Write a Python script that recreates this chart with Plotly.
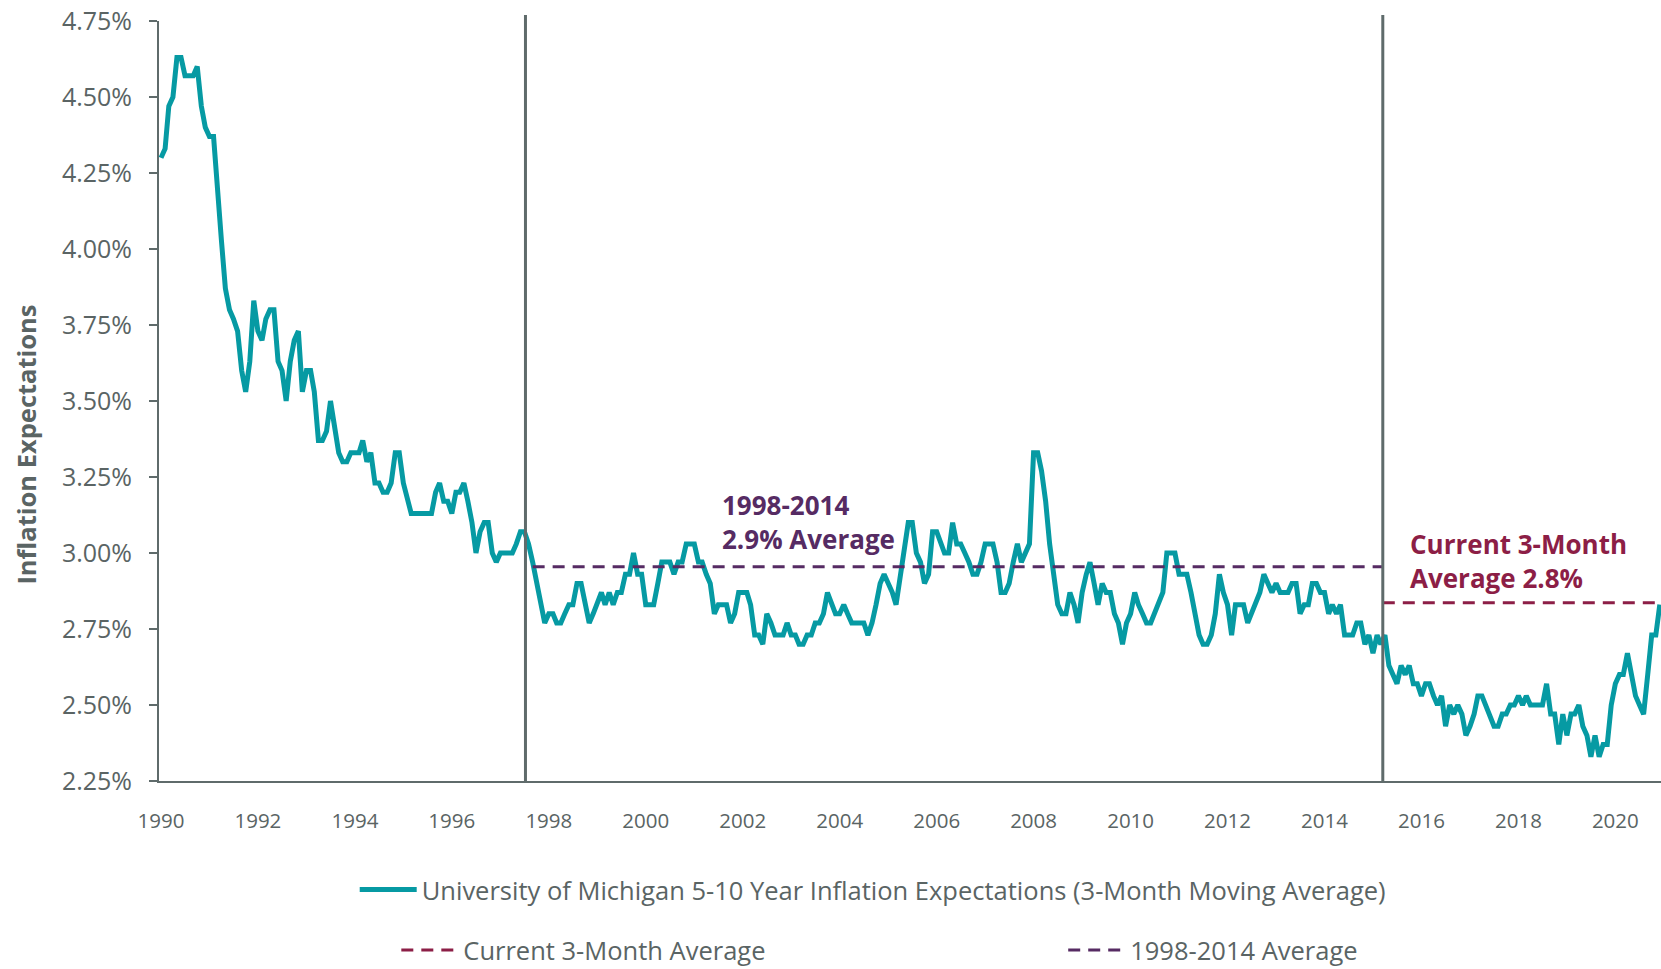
import pandas as pd
import plotly.graph_objects as go

# ---------------- data (monthly, 3-month moving average, %) ----------------
first_month = "1990-01-01"

exp_1990s = [
    4.30, 4.33, 4.47, 4.50, 4.63, 4.63, 4.57, 4.57, 4.57, 4.60, 4.47, 4.40,  # 1990
    4.37, 4.37, 4.23, 4.03, 3.87, 3.80, 3.77, 3.73, 3.60, 3.53, 3.63, 3.83,  # 1991
    3.73, 3.70, 3.77, 3.80, 3.80, 3.63, 3.60, 3.50, 3.63, 3.70, 3.73, 3.53,  # 1992
    3.60, 3.60, 3.53, 3.37, 3.37, 3.40, 3.50, 3.40, 3.33, 3.30, 3.30, 3.33,  # 1993
    3.33, 3.33, 3.37, 3.30, 3.33, 3.23, 3.23, 3.20, 3.20, 3.23, 3.33, 3.33,  # 1994
    3.23, 3.17, 3.13, 3.13, 3.13, 3.13, 3.13, 3.13, 3.20, 3.23, 3.17, 3.17,  # 1995
    3.13, 3.20, 3.20, 3.23, 3.17, 3.10, 3.00, 3.07, 3.10, 3.10, 3.00, 2.97,  # 1996
    3.00, 3.00, 3.00, 3.00, 3.03, 3.07, 3.07, 3.03, 2.97, 2.90, 2.83, 2.77,  # 1997
    2.80, 2.80, 2.77, 2.77, 2.80, 2.83, 2.83, 2.90, 2.90, 2.83, 2.77, 2.80,  # 1998
    2.83, 2.87, 2.83, 2.87, 2.83, 2.87, 2.87, 2.93, 2.93, 3.00, 2.93, 2.93,  # 1999
]
exp_2000s = [
    2.83, 2.83, 2.83, 2.90, 2.97, 2.97, 2.97, 2.93, 2.97, 2.97, 3.03, 3.03,  # 2000
    3.03, 2.97, 2.97, 2.93, 2.90, 2.80, 2.83, 2.83, 2.83, 2.77, 2.80, 2.87,  # 2001
    2.87, 2.87, 2.83, 2.73, 2.73, 2.70, 2.80, 2.77, 2.73, 2.73, 2.73, 2.77,  # 2002
    2.73, 2.73, 2.70, 2.70, 2.73, 2.73, 2.77, 2.77, 2.80, 2.87, 2.83, 2.80,  # 2003
    2.80, 2.83, 2.80, 2.77, 2.77, 2.77, 2.77, 2.73, 2.77, 2.83, 2.90, 2.93,  # 2004
    2.90, 2.87, 2.83, 2.93, 3.03, 3.10, 3.10, 3.00, 2.97, 2.90, 2.93, 3.07,  # 2005
    3.07, 3.03, 3.00, 3.00, 3.10, 3.03, 3.03, 3.00, 2.97, 2.93, 2.93, 2.97,  # 2006
    3.03, 3.03, 3.03, 2.97, 2.87, 2.87, 2.90, 2.97, 3.03, 2.97, 3.00, 3.03,  # 2007
    3.33, 3.33, 3.27, 3.17, 3.03, 2.93, 2.83, 2.80, 2.80, 2.87, 2.83, 2.77,  # 2008
    2.87, 2.93, 2.97, 2.90, 2.83, 2.90, 2.87, 2.87, 2.80, 2.77, 2.70, 2.77,  # 2009
]
exp_2010s = [
    2.80, 2.87, 2.83, 2.80, 2.77, 2.77, 2.80, 2.83, 2.87, 3.00, 3.00, 3.00,  # 2010
    2.93, 2.93, 2.93, 2.87, 2.80, 2.73, 2.70, 2.70, 2.73, 2.80, 2.93, 2.87,  # 2011
    2.83, 2.73, 2.83, 2.83, 2.83, 2.77, 2.80, 2.83, 2.87, 2.93, 2.90, 2.87,  # 2012
    2.90, 2.87, 2.87, 2.87, 2.90, 2.90, 2.80, 2.83, 2.83, 2.90, 2.90, 2.87,  # 2013
    2.87, 2.80, 2.83, 2.80, 2.83, 2.73, 2.73, 2.73, 2.77, 2.77, 2.70, 2.73,  # 2014
    2.67, 2.73, 2.70, 2.73, 2.63, 2.60, 2.57, 2.63, 2.60, 2.63, 2.57, 2.57,  # 2015
    2.53, 2.57, 2.57, 2.53, 2.50, 2.53, 2.43, 2.50, 2.47, 2.50, 2.47, 2.40,  # 2016
    2.43, 2.47, 2.53, 2.53, 2.50, 2.47, 2.43, 2.43, 2.47, 2.47, 2.50, 2.50,  # 2017
    2.53, 2.50, 2.53, 2.50, 2.50, 2.50, 2.50, 2.57, 2.47, 2.47, 2.37, 2.47,  # 2018
    2.40, 2.47, 2.47, 2.50, 2.43, 2.40, 2.33, 2.40, 2.33, 2.37, 2.37, 2.50,  # 2019
]
exp_2020s = [
    2.57, 2.60, 2.60, 2.67, 2.60, 2.53, 2.50, 2.47, 2.60, 2.73, 2.73, 2.83,  # 2020
]

avg_period_dates = ["1997-09-01", "2015-03-16"]
avg_period_values = [2.955, 2.955]
current_avg_dates = ["2015-03-16", "2020-12-31"]
current_avg_values = [2.836, 2.836]
divider_dates = ["1997-07-09", "2015-03-16"]

tick_dates = ["1990-01-01", "1992-01-01", "1994-01-01", "1996-01-01", "1998-01-01",
              "2000-01-01", "2002-01-01", "2004-01-01", "2006-01-01", "2008-01-01",
              "2010-01-01", "2012-01-01", "2014-01-01", "2016-01-01", "2018-01-01",
              "2020-01-01"]
tick_labels = ["1990", "1992", "1994", "1996", "1998", "2000", "2002", "2004", "2006",
               "2008", "2010", "2012", "2014", "2016", "2018", "2020"]

series_name = "University of Michigan 5-10 Year Inflation Expectations (3-Month Moving Average)"

# ---------------- figure ----------------
expectations = exp_1990s + exp_2000s + exp_2010s + exp_2020s
months = pd.date_range(first_month, periods=len(expectations), freq="MS")

TEAL = "#069aa3"
PURPLE = "#562b63"
MAROON = "#8c1e46"
GREY = "#5f6b6b"
TEXT = "#5a6464"
FONT = "Open Sans"

fig = go.Figure()
fig.add_trace(go.Scatter(
    x=months, y=expectations, mode="lines", name=series_name,
    line=dict(color=TEAL, width=5), legend="legend",
))
fig.add_trace(go.Scatter(
    x=current_avg_dates, y=current_avg_values, mode="lines",
    name="Current 3-Month Average",
    line=dict(color=MAROON, width=3, dash="12px,8px"), legend="legend2",
))
fig.add_trace(go.Scatter(
    x=avg_period_dates, y=avg_period_values, mode="lines",
    name="1998-2014 Average",
    line=dict(color=PURPLE, width=3, dash="12px,8px"), legend="legend3",
))

for d in divider_dates:
    fig.add_shape(type="line", xref="x", yref="paper", x0=d, x1=d, y0=0, y1=1.008,
                  line=dict(color=GREY, width=3))

fig.add_annotation(x="2001-07-12", y=3.102, xref="x", yref="y",
                   text="1998-2014<br>2.9% Average", showarrow=False,
                   xanchor="left", yanchor="middle", align="left",
                   font=dict(family=FONT, size=26, color=PURPLE, weight="bold"))
fig.add_annotation(x="2015-09-20", y=2.975, xref="x", yref="y",
                   text="Current 3-Month<br>Average 2.8%", showarrow=False,
                   xanchor="left", yanchor="middle", align="left",
                   font=dict(family=FONT, size=26, color=MAROON, weight="bold"))

# y-axis title (sits below the axis centre in the reference)
fig.add_annotation(x=-0.0882, y=0.442, xref="paper", yref="paper",
                   text="Inflation Expectations", showarrow=False, textangle=-90,
                   xanchor="center", yanchor="middle",
                   font=dict(family=FONT, size=25.5, color=TEXT, weight="bold"))

legend_common = dict(orientation="h", yanchor="middle", xanchor="left",
                     font=dict(family=FONT, size=25.5, color=TEXT),
                     bgcolor="rgba(0,0,0,0)", itemwidth=57)
fig.update_layout(
    width=1661, height=969,
    margin=dict(l=159, r=0, t=21, b=188, autoexpand=False),
    paper_bgcolor="white", plot_bgcolor="white",
    font=dict(family=FONT, color=TEXT),
    showlegend=True,
    legend=dict(x=0.1303, y=-0.1434, **legend_common),
    legend2=dict(x=0.158, y=-0.2230, **legend_common),
    legend3=dict(x=0.602, y=-0.2230, **legend_common),
    xaxis=dict(
        type="date", range=["1989-12-17", "2020-12-10"],
        showline=True, linecolor=GREY, linewidth=2, ticks="",
        showgrid=False, zeroline=False,
        tickvals=tick_dates, ticktext=tick_labels,
        tickfont=dict(family=FONT, size=20.5, color=TEXT),
        ticklabelstandoff=20,
    ),
    yaxis=dict(
        range=[2.25, 4.75], tick0=2.25, dtick=0.25,
        tickformat=".2f", ticksuffix="%",
        showline=True, linecolor=GREY, linewidth=2,
        ticks="outside", ticklen=8, tickwidth=2, tickcolor=GREY,
        showgrid=False, zeroline=False,
        tickfont=dict(family=FONT, size=25, color=TEXT),
        ticklabelstandoff=12,
    ),
)

fig.write_html(
    "out.html",
    config={"displayModeBar": False},
    post_script="document.body.style.margin='0';document.body.style.overflow='hidden';",
)
